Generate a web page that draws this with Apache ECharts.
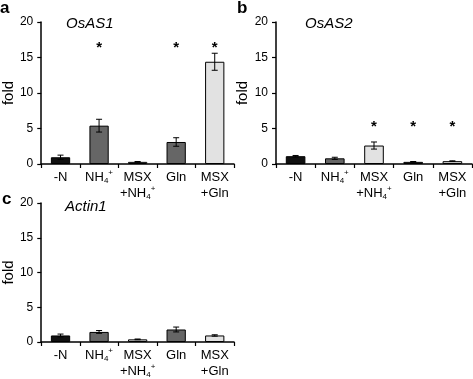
<!DOCTYPE html>
<html><head><meta charset="utf-8">
<script src="https://cdn.jsdelivr.net/npm/echarts@6/dist/echarts.min.js"></script>
<style>html,body{margin:0;padding:0;background:#fff}#c{width:473px;height:379px}</style>
</head><body><div id="c"></div>
<script>
const categories = ['-N', 'NH4+', 'MSX+NH4+', 'Gln', 'MSX+Gln'];
const tickLabels = ['{t|-N}', '{t|NH}{sub|4}{sup|+}', '{t|MSX}\n{t|+NH}{sub|4}{sup|+}', '{t|Gln}', '{t|MSX}\n{t|+Gln}'];
const barColors = ['#111111', '#666666', '#e2e2e2', '#666666', '#e2e2e2'];
const yTicks = [0, 5, 10, 15, 20];
const panelTitles = ['OsAS1', 'OsAS2', 'Actin1'];
const panelLetters = ['a', 'b', 'c'];

const as1Values = [0.95, 5.4, 0.3, 3.1, 14.4];
const as1Err = [0.3, 0.9, 0.05, 0.6, 1.2];
const as1Stars = [null, 16.4, null, 16.4, 16.4];

const as2Values = [1.1, 0.8, 2.6, 0.3, 0.4];
const as2Err = [0.1, 0.15, 0.5, 0.05, 0.05];
const as2Stars = [null, null, 5.3, 5.3, 5.3];

const actValues = [0.94, 1.45, 0.38, 1.8, 0.94];
const actErr = [0.2, 0.2, 0.05, 0.35, 0.1];
const actStars = [null, null, null, null, null];

const panels = [
  {values: as1Values, err: as1Err, stars: as1Stars},
  {values: as2Values, err: as2Err, stars: as2Stars},
  {values: actValues, err: actErr, stars: actStars}
];

const grids = [
  {left: 34, top: 22, width: 200, height: 142},
  {left: 276, top: 22, width: 196, height: 142},
  {left: 34, top: 203, width: 200, height: 142}
];

const FONT = 'Liberation Sans, Arial, sans-serif';
const chart = echarts.init(document.getElementById('c'), null, {renderer: 'canvas'});

function errRender(params, api) {
  const x = api.value(0), y = api.value(1), e = api.value(2);
  const hi = api.coord([x, y + e]), lo = api.coord([x, y - e]);
  const w = 3;
  const st = {stroke: '#000', lineWidth: 1};
  return {type: 'group', children: [
    {type: 'line', shape: {x1: hi[0], y1: hi[1], x2: lo[0], y2: lo[1]}, style: st},
    {type: 'line', shape: {x1: hi[0] - w, y1: hi[1], x2: hi[0] + w, y2: hi[1]}, style: st},
    {type: 'line', shape: {x1: lo[0] - w, y1: lo[1], x2: lo[0] + w, y2: lo[1]}, style: st}
  ]};
}
function starRender(params, api) {
  const p = api.coord([api.value(0), api.value(1)]);
  return {type: 'text', x: p[0], y: p[1], style: {text: '*', fill: '#000', font: 'bold 15px ' + FONT, textAlign: 'center', textVerticalAlign: 'middle'}};
}

const xAxes = [], yAxes = [], series = [], titles = [];
panels.forEach((p, i) => {
  xAxes.push({
    gridIndex: i, type: 'category', data: categories,
    axisLine: {lineStyle: {color: '#000', width: 1.5}},
    axisTick: {show: true, length: 4, lineStyle: {color: '#000', width: 1.2}},
    axisLabel: {
      margin: 5, interval: 0, color: '#000',
      formatter: (v, idx) => tickLabels[idx],
      rich: {
        t: {fontFamily: FONT, fontSize: 13, lineHeight: 16, color: '#000'},
        sub: {fontFamily: FONT, fontSize: 8, lineHeight: 8, verticalAlign: 'bottom', color: '#000'},
        sup: {fontFamily: FONT, fontSize: 8, lineHeight: 8, verticalAlign: 'top', color: '#000'}
      }
    }
  });
  yAxes.push({
    gridIndex: i, type: 'value', min: 0, max: 20, interval: 5,
    name: 'fold', nameLocation: 'middle', nameGap: 25, nameRotate: 90,
    nameTextStyle: {fontFamily: FONT, fontSize: 15, color: '#000'},
    axisLine: {show: true, lineStyle: {color: '#000', width: 1.5}},
    axisTick: {show: true, length: 4, lineStyle: {color: '#000', width: 1.2}},
    splitLine: {show: false},
    axisLabel: {margin: 8, fontFamily: FONT, fontSize: 12, color: '#000',
      formatter: v => yTicks.indexOf(v) >= 0 ? String(v) : ''}
  });
  series.push({
    type: 'bar', xAxisIndex: i, yAxisIndex: i, barWidth: '50%',
    data: p.values.map((v, k) => ({value: v, itemStyle: {color: barColors[k], borderColor: '#000', borderWidth: 1}})),
    silent: true
  });
  series.push({
    type: 'custom', xAxisIndex: i, yAxisIndex: i, renderItem: errRender, silent: true, z: 5,
    data: p.values.map((v, k) => [k, v, p.err[k]])
  });
  const starData = [];
  p.stars.forEach((s, k) => { if (s !== null) starData.push([k, s]); });
  series.push({
    type: 'custom', xAxisIndex: i, yAxisIndex: i, renderItem: starRender, silent: true, z: 5,
    data: starData
  });
});

const titleStyle = {fontFamily: FONT, fontStyle: 'italic', fontWeight: 'normal', fontSize: 15, color: '#000'};
const letterStyle = {fontFamily: FONT, fontWeight: 'bold', fontSize: 17, color: '#000'};
titles.push(
  {text: panelTitles[0], left: 66, top: 16, padding: 0, textStyle: titleStyle},
  {text: panelTitles[1], left: 305, top: 16, padding: 0, textStyle: titleStyle},
  {text: panelTitles[2], left: 65, top: 199, padding: 0, textStyle: titleStyle},
  {text: panelLetters[0], left: 0, top: 0, padding: 0, textStyle: letterStyle},
  {text: panelLetters[1], left: 237, top: 0, padding: 0, textStyle: letterStyle},
  {text: panelLetters[2], left: 2, top: 191, padding: 0, textStyle: letterStyle}
);

chart.setOption({
  animation: false,
  backgroundColor: '#fff',
  title: titles,
  grid: grids,
  xAxis: xAxes,
  yAxis: yAxes,
  series: series
});
</script>
</body></html>
